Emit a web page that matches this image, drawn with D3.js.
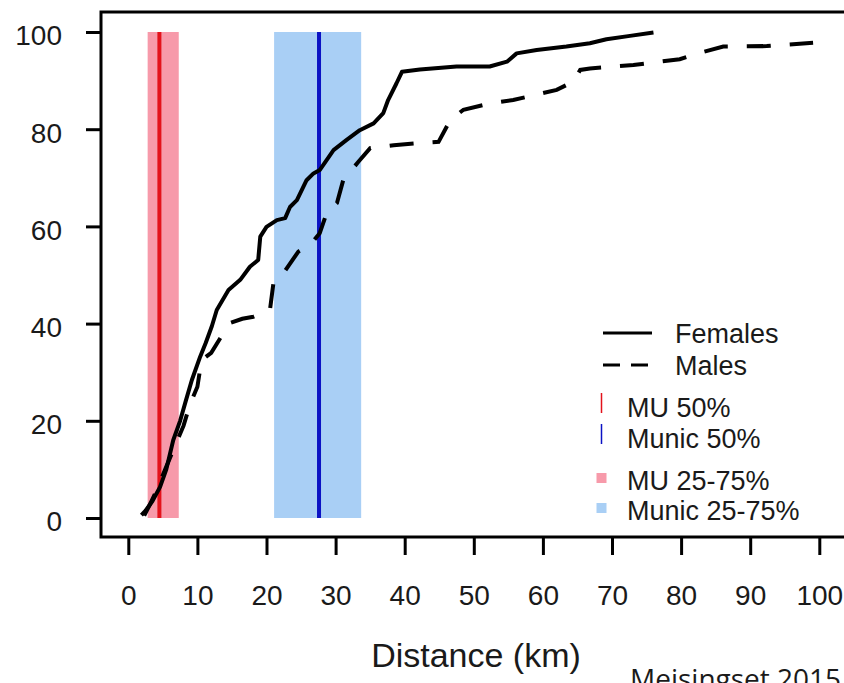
<!DOCTYPE html>
<html>
<head>
<meta charset="utf-8">
<script src="https://cdn.jsdelivr.net/npm/d3@7"></script>
<style>
  body { margin: 0; background: #fff; }
  text { font-family: "Liberation Sans", Arial, sans-serif; fill: #1a1a1a; }
</style>
</head>
<body>
<div id="chart"></div>
<script>
// distance (km) vs cumulative percent
const femaleDist = [1.9, 2.5, 3.5, 4.6, 5.5, 6.5, 7.5, 8.3, 9.2, 10.4, 11.2, 12.1, 12.8, 14.5, 16.2, 17.6, 18.8, 19.1, 20.0, 21.5, 22.7, 23.4, 24.4, 25.8, 26.8, 27.7, 29.7, 31.6, 33.5, 35.5, 36.9, 37.6, 38.8, 39.6, 42.2, 47.5, 52.3, 54.8, 56.2, 59.1, 63.4, 66.8, 69.2, 72.6, 76.0];
const femalePct  = [0.6, 1.5, 3.5, 6.4, 10, 16, 20, 24, 28.4, 33.2, 36, 39.5, 42.8, 46.9, 49, 51.7, 53.1, 57.9, 59.9, 61.3, 61.7, 64, 65.4, 69.5, 70.9, 71.6, 75.7, 77.8, 79.8, 81.2, 83.3, 86, 89.4, 91.8, 92.3, 92.9, 92.9, 93.9, 95.6, 96.3, 97, 97.7, 98.5, 99.2, 99.9];

const maleDist = [2.3, 3.1, 4.2, 5.3, 6.8, 8.0, 8.9, 10.0, 10.6, 12.0, 13.3, 14.7, 16.5, 18.1, 20.5, 21.0, 22.4, 24.6, 26.3, 27.7, 28.7, 30.2, 31.1, 33.3, 35.0, 38.4, 41.7, 44.9, 46.6, 48.5, 52.3, 55.7, 62.0, 64.4, 65.4, 66.8, 73.1, 79.8, 83.2, 86.1, 92.4, 99.1];
const malePct  = [0.5, 2.7, 6, 9.9, 15, 19, 23.3, 27, 32.5, 34, 37, 40.1, 41, 41.4, 42.8, 48.3, 50.3, 54.8, 56.2, 58.6, 62.7, 64.8, 69.5, 73.3, 76.1, 76.7, 77.1, 77.4, 81.9, 84, 85.3, 86, 88.1, 89.8, 92.2, 92.5, 93.2, 94.4, 95.9, 97, 97.1, 97.8];

// reference ranges: [25%, 50%, 75%]
const refNames = ["MU", "Munic"];
const refQuartiles = [[2.8, 4.5, 7.3], [21.1, 27.6, 33.7]];
const refBandColors = ["#f79aaa", "#a9cff5"];
const refLineColors = ["#e3121b", "#0b12c4"];

const xTicks = [0, 10, 20, 30, 40, 50, 60, 70, 80, 90, 100];
const yTicks = [0, 20, 40, 60, 80, 100];

const width = 844, height = 683;

const svg = d3.select("#chart").append("svg")
    .attr("width", width)
    .attr("height", height);

const x = d3.scaleLinear().domain([0, 100]).range([128.3, 819.3]);
const y = d3.scaleLinear().domain([0, 100]).range([518, 32]);

// quartile bands + medians
refQuartiles.forEach((q, i) => {
    svg.append("rect")
        .attr("x", x(q[0]))
        .attr("y", y(100))
        .attr("width", x(q[2]) - x(q[0]))
        .attr("height", y(0) - y(100))
        .attr("fill", refBandColors[i]);
});
refQuartiles.forEach((q, i) => {
    svg.append("line")
        .attr("x1", x(q[1])).attr("x2", x(q[1]))
        .attr("y1", y(0)).attr("y2", y(100))
        .attr("stroke", refLineColors[i])
        .attr("stroke-width", 4);
});

const line = d3.line().x(d => x(d[0])).y(d => y(d[1]));

svg.append("path")
    .datum(d3.zip(femaleDist, femalePct))
    .attr("d", line)
    .attr("fill", "none")
    .attr("stroke", "#000")
    .attr("stroke-width", 4)
    .attr("stroke-linejoin", "round");

svg.append("path")
    .datum(d3.zip(maleDist, malePct))
    .attr("d", line)
    .attr("fill", "none")
    .attr("stroke", "#000")
    .attr("stroke-width", 4)
    .attr("stroke-dasharray", "24,19");

// frame (cut off on the right like the source image)
svg.append("rect")
    .attr("x", 101).attr("y", 12)
    .attr("width", 800).attr("height", 525)
    .attr("fill", "none")
    .attr("stroke", "#000")
    .attr("stroke-width", 3);

const xAxis = svg.append("g")
    .attr("transform", "translate(0,537)")
    .call(d3.axisBottom(x).tickValues(xTicks).tickSize(18).tickPadding(30));
xAxis.select(".domain").remove();
xAxis.selectAll(".tick line").attr("stroke", "#000").attr("stroke-width", 3);
xAxis.selectAll(".tick text")
    .style("font-size", "28px")
    .attr("dy", "0.71em")
    .attr("fill", "#1a1a1a");

const yAxis = svg.append("g")
    .attr("transform", "translate(101,0)")
    .call(d3.axisLeft(y).tickValues(yTicks).tickSize(15).tickPadding(24));
yAxis.select(".domain").remove();
yAxis.selectAll(".tick line").attr("stroke", "#000").attr("stroke-width", 3);
yAxis.selectAll(".tick text")
    .style("font-size", "28px")
    .attr("dy", "0.46em")
    .attr("fill", "#1a1a1a");

svg.append("text")
    .attr("x", 476).attr("y", 667)
    .attr("text-anchor", "middle")
    .style("font-size", "34px")
    .text("Distance (km)");

svg.append("text")
    .attr("x", 630).attr("y", 689)
    .style("font-family", "'Open Sans', sans-serif")
    .style("font-size", "28px")
    .text("Meisingset 2015");

// legend
const legend = svg.append("g");
const legendFont = "27px";

legend.append("line")
    .attr("x1", 603).attr("x2", 652).attr("y1", 333).attr("y2", 333)
    .attr("stroke", "#000").attr("stroke-width", 3);
legend.append("text").attr("x", 675).attr("y", 343).style("font-size", legendFont).text("Females");

legend.append("line")
    .attr("x1", 603).attr("x2", 649).attr("y1", 365).attr("y2", 365)
    .attr("stroke", "#000").attr("stroke-width", 3)
    .attr("stroke-dasharray", "17,11");
legend.append("text").attr("x", 675).attr("y", 375).style("font-size", legendFont).text("Males");

refNames.forEach((name, i) => {
    const cy = 403 + i * 31;
    legend.append("line")
        .attr("x1", 601.5).attr("x2", 601.5)
        .attr("y1", cy - 10).attr("y2", cy + 10)
        .attr("stroke", refLineColors[i]).attr("stroke-width", 1.5);
    legend.append("text")
        .attr("x", 627).attr("y", cy + 14)
        .style("font-size", legendFont)
        .text(name + " 50%");
});

refNames.forEach((name, i) => {
    const cy = 478 + i * 30;
    legend.append("rect")
        .attr("x", 596.5).attr("y", cy - 5)
        .attr("width", 10).attr("height", 10)
        .attr("fill", refBandColors[i]);
    legend.append("text")
        .attr("x", 627).attr("y", cy + 12)
        .style("font-size", legendFont)
        .text(name + " 25-75%");
});
</script>
</body>
</html>
